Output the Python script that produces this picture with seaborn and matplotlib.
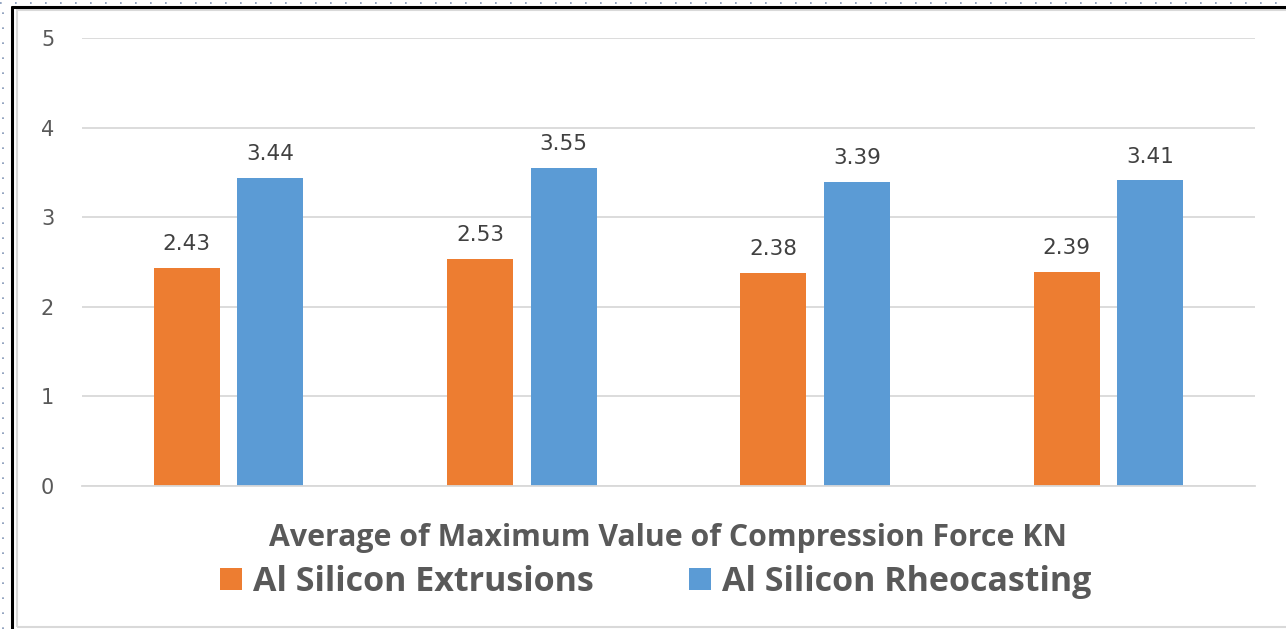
import matplotlib
matplotlib.use("Agg")
import matplotlib.pyplot as plt
import seaborn as sns
import pandas as pd
from matplotlib.lines import Line2D
from matplotlib.patches import Rectangle

categories = ["Test 1", "Test 2", "Test 3", "Test 4"]
series_names = ["Al Silicon Extrusions", "Al Silicon Rheocasting"]
extrusions = [2.43, 2.53, 2.38, 2.39]
rheocasting = [3.44, 3.55, 3.39, 3.41]
y_ticks = [0, 1, 2, 3, 4, 5]
title_text = "Average of Maximum Value of Compression Force KN"

colors = ["#ED7D31", "#5B9BD5"]

df = pd.DataFrame({
    "category": categories * 2,
    "series": [series_names[0]] * 4 + [series_names[1]] * 4,
    "value": extrusions + rheocasting,
})

sns.set_theme(style="white")
plt.rcParams["font.family"] = ["Open Sans", "DejaVu Sans"]

fig = plt.figure(figsize=(12.86, 6.29), dpi=100)
ax = fig.add_axes([82 / 1286, 143 / 629, 1173 / 1286, 448 / 629])

sns.barplot(data=df, x="category", y="value", hue="series", order=categories,
            hue_order=series_names, palette=colors, width=0.57, gap=0.21,
            saturation=1, ax=ax, legend=True, linewidth=0)

ax.set_xlim(-0.5, 3.5)
ax.set_ylim(0, 5)
ax.set_yticks(y_ticks)
ax.set_yticklabels([str(t) for t in y_ticks], fontsize=15, color="#595959",
                   family="DejaVu Sans")
ax.tick_params(axis="y", length=0, pad=20)
ax.set_xticks([])
ax.set_xlabel("")
ax.set_ylabel("")
ax.grid(axis="y", color="#d9d9d9", linewidth=1.3)
ax.set_axisbelow(True)
for s in ["top", "right", "left"]:
    ax.spines[s].set_visible(False)
ax.spines["bottom"].set_color("#d9d9d9")
ax.spines["bottom"].set_linewidth(1.3)

for cont in ax.containers:
    ax.bar_label(cont, fmt="%.2f", padding=10, fontsize=15.5, color="#404040",
                 family="DejaVu Sans")

handles, labels = ax.get_legend_handles_labels()
ax.get_legend().remove()
fig.legend(handles, labels, loc="center", bbox_to_anchor=(656 / 1286, 47 / 629),
           ncol=2, frameon=False, prop={"size": 24.5, "weight": "bold"},
           labelcolor="#595959", handlelength=0.65, handleheight=0.65,
           handletextpad=0.32, columnspacing=2.8)

fig.text(668 / 1286, (629 - 538) / 629, title_text, ha="center", va="center",
         fontsize=21.8, fontweight="bold", color="#595959")

# screenshot-like framing
fig.add_artist(Rectangle((17 / 1286, 2 / 629), 1280 / 1286, 617 / 629,
                         transform=fig.transFigure, fill=False,
                         edgecolor="#d9d9d9", linewidth=1.5))
fig.add_artist(Line2D([12 / 1286, 12 / 1286], [0, 622 / 629], transform=fig.transFigure,
                      color="black", linewidth=2.2))
fig.add_artist(Line2D([12 / 1286, 1], [622 / 629, 622 / 629], transform=fig.transFigure,
                      color="black", linewidth=2.2))
fig.add_artist(Line2D([3 / 1286, 3 / 1286], [0, 1], transform=fig.transFigure,
                      color="#7f93b5", linewidth=1.2, linestyle=(0, (1, 8))))
fig.add_artist(Line2D([0, 1], [626 / 629, 626 / 629], transform=fig.transFigure,
                      color="#7f93b5", linewidth=1.2, linestyle=(0, (1, 8))))

fig.savefig("out.png", dpi=100, facecolor="white")
